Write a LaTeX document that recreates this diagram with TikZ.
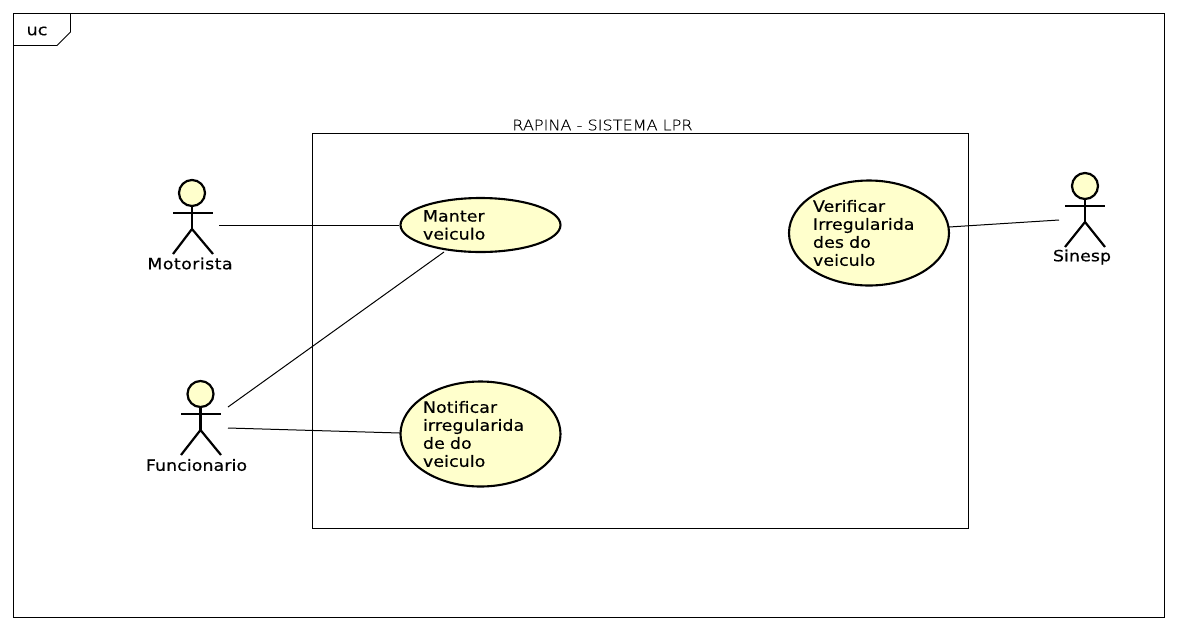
\documentclass[tikz,border=0pt]{standalone}
\usepackage{fontspec}
\setmainfont[FakeStretch=1.12,LetterSpace=0.6,FakeBold=0.45]{DejaVu Sans}
\newfontfamily\titlefont[FakeStretch=1.11,FakeBold=0.08]{DejaVu Sans ExtraLight}
\usetikzlibrary{shapes.geometric}
\definecolor{ucfill}{HTML}{FFFFCC}
\tikzset{
  usecase/.style={ellipse,draw=black,line width=2.1pt,fill=ucfill,inner ysep=0pt,inner xsep=-1.5pt,
    text width=#1,align=left,font=\fontsize{15.5}{18}\selectfont},
  head/.style={circle,draw=black,line width=2.2pt,fill=ucfill,minimum size=26pt,inner sep=0pt},
  limb/.style={draw=black,line width=2.2pt},
  assoc/.style={draw=black,line width=1pt},
  frame/.style={draw=black,line width=0.9pt},
  actorlabel/.style={font=\fontsize{15.5}{18}\selectfont,inner sep=0pt,anchor=center}
}
\begin{document}
\begin{tikzpicture}[x=1pt,y=-1pt]
\useasboundingbox (0,0) rectangle (1177,630);
\fill[white] (0,0) rectangle (1177,630);
% outer frame
\draw[frame] (13.5,13.5) rectangle (1164.5,617.5);
\draw[frame] (13.5,45.5) -- (57,45.5) -- (70.5,32) -- (70.5,13.5);
\node[font=\fontsize{15.5}{18}\selectfont,inner sep=0pt] (uclabel) at (37,31) {uc};
% system boundary
\node[draw=black,line width=0.9pt,minimum width=656pt,minimum height=395pt,inner sep=0pt] (system) at (640.5,330.5) {};
\node[font=\titlefont\fontsize{14.5}{18}\selectfont,inner sep=0pt] (systitle) at (602.5,125) {RAPINA - SISTEMA LPR};
% use cases
\node[usecase=115pt,minimum width=160pt,minimum height=54pt] (manter) at (480.5,225) {Manter\\veiculo};
\node[usecase=115pt,minimum width=160pt,minimum height=105pt] (notificar) at (480.5,434) {Notificar\\irregularida\\de do\\veiculo};
\node[usecase=112pt,minimum width=160pt,minimum height=105pt] (verificar) at (869,233) {Verificar\\Irregularida\\des do\\veiculo};
% actors
\node[head] (mhead) at (192,193) {};
\draw[limb] (mhead.south) -- (192,229) coordinate (mhip);
\draw[limb] (173,213) coordinate (ma1) -- (213,213) coordinate (ma2);
\draw[limb] (173,254) coordinate (ml1) -- (mhip) -- (213,254) coordinate (ml2);
\node[actorlabel] (mlabel) at (190,263.5) {\addfontfeature{LetterSpace=3}Motorista};
\coordinate (mport) at (219,225);

\node[head] (fhead) at (200.5,394) {};
\draw[limb] (fhead.south) -- (200.5,430) coordinate (fhip);
\draw[limb] (181,414) coordinate (fa1) -- (221,414) coordinate (fa2);
\draw[limb] (181,455) coordinate (fl1) -- (fhip) -- (221,455) coordinate (fl2);
\node[actorlabel] (flabel) at (196.5,465) {Funcionario};
\coordinate (fport1) at (228,407);
\coordinate (fport2) at (228,428);
\coordinate (mterm) at (444,252);
\coordinate (nterm) at (400,433);
\coordinate (vterm) at (949,227);

\node[head] (shead) at (1085,186) {};
\draw[limb] (shead.south) -- (1085,222) coordinate (ship);
\draw[limb] (1065,206) coordinate (sa1) -- (1105,206) coordinate (sa2);
\draw[limb] (1065,247) coordinate (sl1) -- (ship) -- (1105,247) coordinate (sl2);
\node[actorlabel] (slabel) at (1082,257) {Sinesp};
\coordinate (sport) at (1059,220);
% associations
\draw[assoc] (mport) -- (manter.west);
\draw[assoc] (fport1) -- (mterm);
\draw[assoc] (fport2) -- (nterm);
\draw[assoc] (vterm) -- (sport);
\end{tikzpicture}
\end{document}
